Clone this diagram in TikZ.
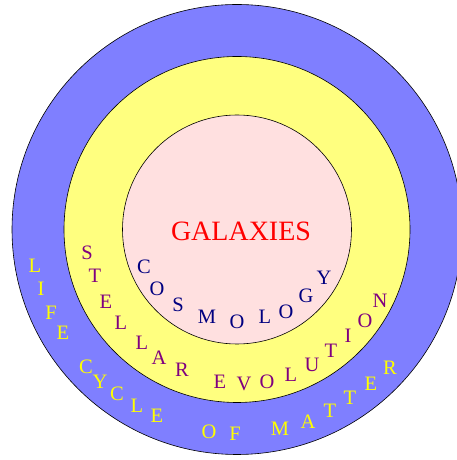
\documentclass[tikz,border=0pt]{standalone}
\usepackage{fontspec}
\setmainfont{Liberation Serif}
\definecolor{ringblue}{RGB}{127,127,255}
\definecolor{ringyellow}{RGB}{255,255,127}
\definecolor{corepink}{RGB}{255,224,224}
\definecolor{txtyellow}{RGB}{255,255,0}
\definecolor{txtpurple}{RGB}{128,0,128}
\definecolor{txtnavy}{RGB}{0,0,128}
\begin{document}
\begin{tikzpicture}[x=1pt,y=1pt,
  ring/.style={draw=black,line width=0.6pt},
  lettr/.style={inner sep=0pt,font=\fontsize{20.5}{22}\selectfont},
  lifel/.style={lettr,text=txtyellow},
  stell/.style={lettr,text=txtpurple},
  cosml/.style={lettr,text=txtnavy}]
\useasboundingbox (0,0) rectangle (457,460);
\coordinate (ctr) at (237,230.5);
\fill[white] (0,0) rectangle (457,460);
\draw[ring,fill=ringblue] (ctr) circle (225);
\draw[ring,fill=ringyellow] (ctr) circle (173);
\draw[ring,fill=corepink] (ctr) circle (114.5);
\node[inner sep=0pt,text=red,font=\fontsize{28}{30}\selectfont] (gal) at (241,229) {GALAXIES};
% LIFE CYCLE OF MATTER
\foreach \ch/\px/\py [count=\i] in {L/35/266, I/41/289, F/51/313, E/63/333,
  C/86/367, Y/100/382, C/117/394, L/137/406, E/157/416,
  O/209/432, F/235/434,
  M/280/429, A/308/422, T/330/411, T/350/398, E/371/384, R/390/368}
  \node[lifel] (life\i) at (\px,460-\py) {\ch};
% STELLAR EVOLUTION
\foreach \ch/\px/\py [count=\i] in {S/87/253, T/95/276, E/106/302, L/121/323,
  L/142/343, A/159/358, R/182/370,
  E/220/382, V/244/384, O/267/382, L/291/375, U/312/365, T/331/351,
  I/348/336, O/365/321, N/380/301}
  \node[stell] (stel\i) at (\px,460-\py) {\ch};
% COSMOLOGY
\foreach \ch/\px/\py [count=\i] in {C/144/267, O/157/289, S/178/305, M/207/317,
  O/237/322, L/265/317, O/286/312, G/306/296, Y/324/278}
  \node[cosml] (cosm\i) at (\px,460-\py) {\ch};
\end{tikzpicture}
\end{document}
